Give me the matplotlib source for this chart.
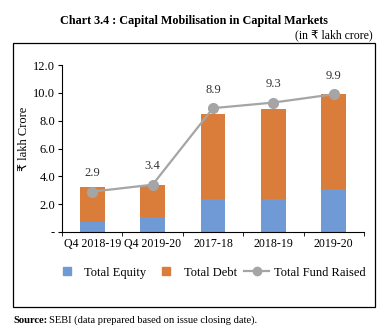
import matplotlib.pyplot as plt
from matplotlib.lines import Line2D
import numpy as np

periods = ['Q4 2018-19', 'Q4 2019-20', '2017-18', '2018-19', '2019-20']
equity = [0.75, 1.05, 2.35, 2.35, 3.1]
debt = [2.45, 2.3, 6.1, 6.5, 6.85]
fund_raised = [2.9, 3.4, 8.9, 9.3, 9.9]
y_ticks = [0, 2, 4, 6, 8, 10, 12]
y_labels = ['-', '2.0', '4.0', '6.0', '8.0', '10.0', '12.0']

plt.rcParams['font.family'] = ['Liberation Serif', 'DejaVu Sans']

blue = '#6F9AD6'
orange = '#DB7D3A'
grey = '#A5A5A5'

fig = plt.figure(figsize=(3.88, 3.33), dpi=100)
ax = fig.add_axes([62/388, 1 - 232/333, (364-62)/388, (232-65)/333])

x = np.arange(len(periods))
ax.bar(x, equity, width=0.41, color=blue)
ax.bar(x, debt, width=0.41, bottom=equity, color=orange)
ax.plot(x, fund_raised, color=grey, lw=1.6, marker='o', ms=7)
for xi, v in zip(x, fund_raised):
  ax.annotate('%.1f' % v, (xi, v), xytext=(0, 9), textcoords='offset points',
              ha='center', va='bottom', fontsize=9, color='#333333')

ax.set_xlim(-0.5, 4.5)
ax.set_ylim(0, 12)
ax.set_yticks(y_ticks)
ax.set_yticklabels(y_labels, fontsize=9)
ax.set_xticks(x)
ax.set_xticklabels(periods, fontsize=8.6)
ax.tick_params(axis='x', length=0, pad=4)
ax.set_xticks(np.arange(-0.5, 5, 1), minor=True)
ax.tick_params(axis='x', which='minor', length=3, direction='out')
ax.tick_params(axis='y', length=3, direction='out', pad=2)
for s in ['top', 'right']:
  ax.spines[s].set_visible(False)
ax.set_ylabel('₹ lakh Crore', fontsize=9)
ax.yaxis.set_label_coords(-0.106, 0.56)

handles = [Line2D([], [], ls='none', marker='s', ms=6, color=blue),
           Line2D([], [], ls='none', marker='s', ms=6, color=orange),
           Line2D([], [], color=grey, lw=1.6, marker='o', ms=6)]
ax.legend(handles, ['Total Equity', 'Total Debt', 'Total Fund Raised'],
          loc='upper center', bbox_to_anchor=(0.49, -0.14), ncol=3, frameon=False,
          fontsize=9, handlelength=2.0, columnspacing=0.6, handletextpad=0.4)

# outer frame
fig.patches.append(plt.Rectangle((13/388, 1 - 307/333), (375-13)/388, (307-43)/333,
                                 transform=fig.transFigure, fill=False, lw=0.9, ec='black'))

fig.text(194/388, 1 - 21/333, 'Chart 3.4 : Capital Mobilisation in Capital Markets',
         ha='center', va='center', fontsize=8.7, fontweight='bold')
fig.text(373/388, 1 - 35/333, '(in ₹ lakh crore)', ha='right', va='center', fontsize=8.5)
src = fig.text(13/388, 1 - 323/333, 'Source:', ha='left', va='baseline', fontsize=7.6, fontweight='bold')
fig.canvas.draw()
bb = src.get_window_extent()
fig.text(bb.x1 / fig.bbox.width + 2/388, 1 - 323/333,
         'SEBI (data prepared based on issue closing date).',
         ha='left', va='baseline', fontsize=7.6)

fig.savefig('out.png', dpi=100)
